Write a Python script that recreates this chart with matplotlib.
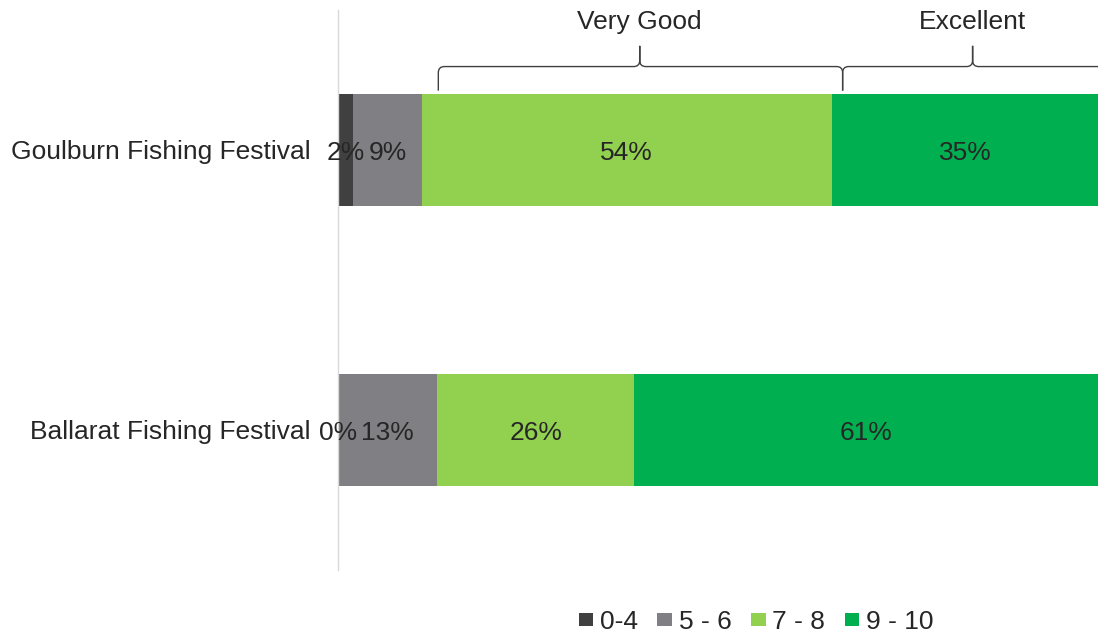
import matplotlib
matplotlib.use("Agg")
import matplotlib.pyplot as plt
from matplotlib.path import Path
from matplotlib.patches import PathPatch

plt.rcParams['font.family'] = ['Liberation Sans', 'DejaVu Sans']

events = ["Goulburn Fishing Festival", "Ballarat Fishing Festival"]
bands = ["0-4", "5 - 6", "7 - 8", "9 - 10"]
colors = ["#404040", "#7f7f84", "#92d050", "#00b050"]
goulburn = [2, 9, 54, 35]
ballarat = [0, 13, 26, 61]
values = [goulburn, ballarat]

text_color = "#262626"
fs = 19

fig = plt.figure(figsize=(10.98, 6.33), dpi=100)
ax = fig.add_axes([338 / 1098, 1 - 570 / 633, 760 / 1098, 560 / 633])

ypos = [1, 0]
for i, band in enumerate(bands):
    left = [sum(v[:i]) for v in values]
    widths = [v[i] for v in values]
    ax.barh(ypos, widths, left=left, height=0.403, color=colors[i],
            label=band, linewidth=0)
    for y, l, w in zip(ypos, left, widths):
        ax.text(l + w / 2, y - 0.01, f"{w}%", ha="center", va="center",
                fontsize=fs, color=text_color)

ax.set_xlim(0, 100)
ax.set_ylim(-0.5, 1.5)
ax.set_yticks(ypos)
ax.set_yticklabels(events, fontsize=fs, color=text_color)
ax.tick_params(axis="y", length=0, pad=20)
ax.set_xticks([])
for side in ["top", "right", "bottom"]:
    ax.spines[side].set_visible(False)
ax.spines["left"].set_color("#d9d9d9")
ax.spines["left"].set_linewidth(1)


def brace(x0, x1, xm, y_line, y_end, y_tip, rx=0.8, ry=0.022):
    verts = [
        (x0, y_end), (x0, y_line - ry), (x0, y_line), (x0 + rx, y_line),
        (xm - rx, y_line), (xm, y_line), (xm, y_line + ry), (xm, y_tip),
        (xm, y_tip), (xm, y_line + ry), (xm, y_line), (xm + rx, y_line),
        (x1 - rx, y_line), (x1, y_line), (x1, y_line - ry), (x1, y_end),
    ]
    codes = [
        Path.MOVETO, Path.LINETO, Path.CURVE3, Path.CURVE3,
        Path.LINETO, Path.CURVE3, Path.CURVE3, Path.LINETO,
        Path.MOVETO, Path.LINETO, Path.CURVE3, Path.CURVE3,
        Path.LINETO, Path.CURVE3, Path.CURVE3, Path.LINETO,
    ]
    ax.add_patch(PathPatch(Path(verts, codes), facecolor="none",
                           edgecolor="#404040", linewidth=1.0))


brace(13.2, 66.4, 39.7, 1.298, 1.212, 1.372)
brace(66.4, 101.5, 83.5, 1.298, 1.212, 1.372)
ax.text(39.7, 1.458, "Very Good", ha="center", va="center",
        fontsize=fs, color=text_color)
ax.text(83.5, 1.458, "Excellent", ha="center", va="center",
        fontsize=fs, color=text_color)

leg = fig.legend(loc="center", bbox_to_anchor=(756 / 1098, 1 - 622 / 633),
                 ncol=4, frameon=False, fontsize=fs, handlelength=0.55,
                 handleheight=0.4, handletextpad=0.25, columnspacing=0.75)
for t in leg.get_texts():
    t.set_color(text_color)

fig.savefig("out.png", dpi=100)
